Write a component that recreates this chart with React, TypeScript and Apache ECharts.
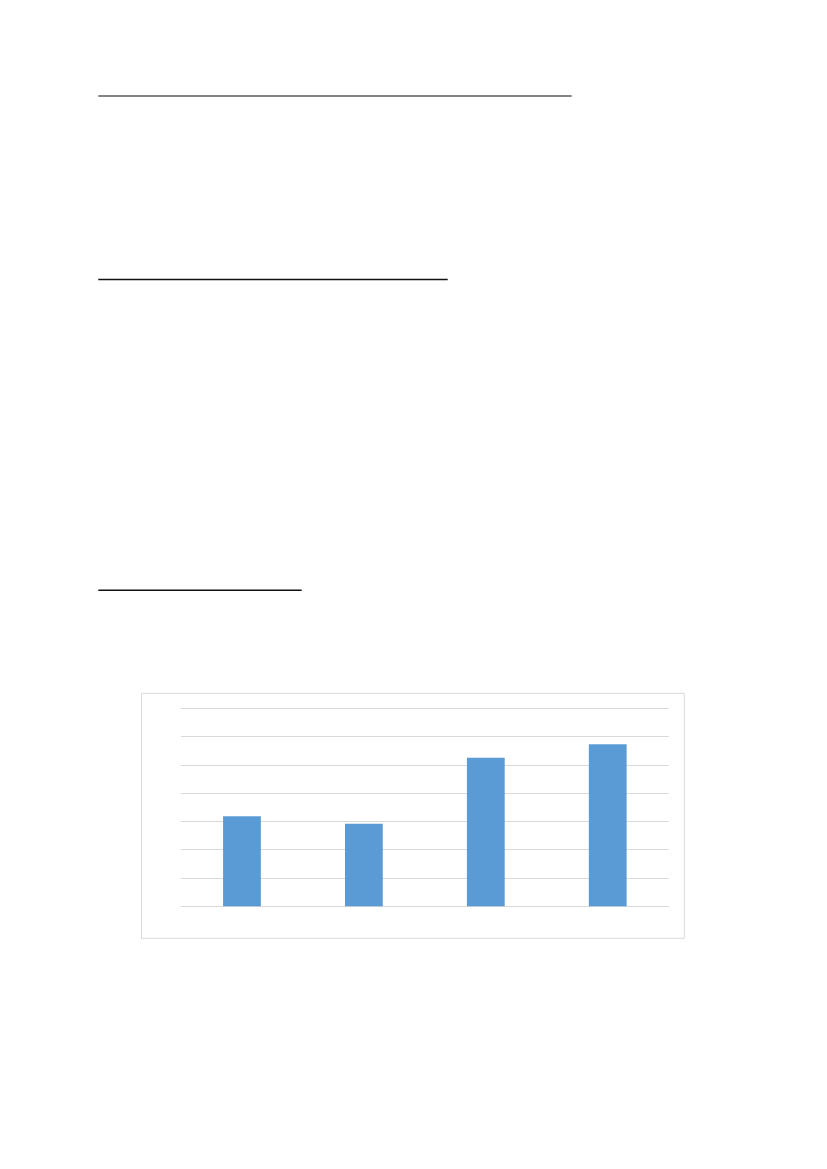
import React, { useEffect, useRef } from "react";
import * as echarts from "echarts";

const categories = ["1", "2", "3", "4"];
const values = [3.18, 2.92, 5.25, 5.73];
const yMin = 0;
const yMax = 7;
const yInterval = 1;

export default function App() {
  const ref = useRef<HTMLDivElement>(null);
  useEffect(() => {
    if (!ref.current) return;
    const chart = echarts.init(ref.current, null, { renderer: "svg" });
    chart.setOption({
      animation: false,
      backgroundColor: "#ffffff",
      grid: { left: 181, right: 158.3, top: 708.3, bottom: 262.7, containLabel: false },
      xAxis: {
        type: "category",
        data: categories,
        axisLine: { show: true, lineStyle: { color: "#d9d9d9", width: 1 } },
        axisTick: { show: false },
        axisLabel: { show: false },
        splitLine: { show: false },
      },
      yAxis: {
        type: "value",
        min: yMin,
        max: yMax,
        interval: yInterval,
        axisLine: { show: false },
        axisTick: { show: false },
        axisLabel: { show: false },
        splitLine: { show: true, lineStyle: { color: "#d9d9d9", width: 1 } },
      },
      series: [
        {
          type: "bar",
          data: values,
          barWidth: "31%",
          itemStyle: { color: "#5b9bd5" },
        },
      ],
      graphic: [
        {
          type: "line",
          shape: { x1: 98.3, y1: 96, x2: 571.7, y2: 96 },
          style: { stroke: "#5a5a5a", lineWidth: 1.3 },
        },
        {
          type: "line",
          shape: { x1: 98.3, y1: 279.5, x2: 447.7, y2: 279.5 },
          style: { stroke: "#111111", lineWidth: 1.5 },
        },
        {
          type: "line",
          shape: { x1: 98.3, y1: 590.3, x2: 301.7, y2: 590.3 },
          style: { stroke: "#111111", lineWidth: 1.5 },
        },
        {
          type: "rect",
          shape: { x: 141.5, y: 693.3, width: 542.8, height: 245 },
          style: { fill: "none", stroke: "#d9d9d9", lineWidth: 1 },
          z: -1,
        },
      ],
    });
    return () => chart.dispose();
  }, []);
  return (
    <div
      ref={ref}
      style={{ position: "absolute", left: 0, top: 0, width: 827, height: 1169 }}
    />
  );
}
